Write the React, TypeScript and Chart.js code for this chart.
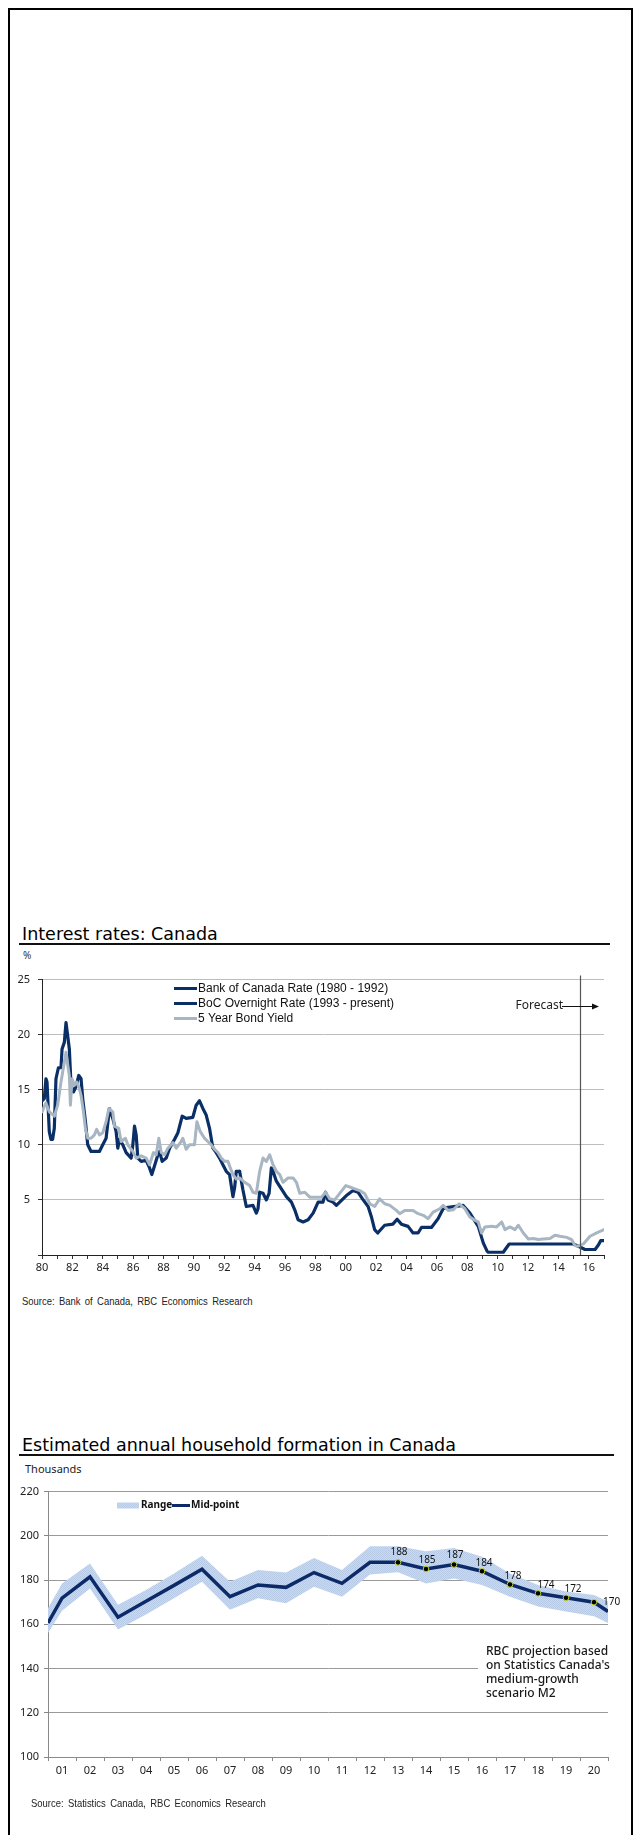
import React, { useEffect, useRef } from 'react';
import { Chart, registerables } from 'chart.js';

Chart.register(...registerables);

// ---------------- Chart 1 data: Interest rates: Canada ----------------
const rateLegendLabels = ['Bank of Canada Rate (1980 - 1992)', 'BoC Overnight Rate (1993 - present)', '5 Year Bond Yield'];
const rateYAxisTicks = [0, 5, 10, 15, 20, 25];
const forecastStart = 2015.4;

const bankRateYears = [1980.0, 1980.15, 1980.26, 1980.33, 1980.48, 1980.59, 1980.7, 1980.81, 1980.92, 1981.08, 1981.25, 1981.32, 1981.47, 1981.58, 1981.69, 1981.8, 1981.91, 1982.07, 1982.24, 1982.42, 1982.57, 1982.68, 1982.86, 1983.01, 1983.23, 1983.78, 1984.0, 1984.22, 1984.44, 1984.66, 1984.88, 1984.99, 1985.1, 1985.32, 1985.54, 1985.87, 1985.98, 1986.09, 1986.2, 1986.31, 1986.53, 1986.86, 1987.08, 1987.23, 1987.41, 1987.63, 1987.74, 1987.91, 1988.18, 1988.4, 1988.73, 1988.95, 1989.23, 1989.49, 1989.93, 1990.15, 1990.37, 1990.59, 1990.81, 1991.03, 1991.25, 1991.47, 1991.69, 1991.91, 1992.13, 1992.35, 1992.57, 1992.68, 1992.79, 1993.01];
const bankRateValues = [14.0, 14.2, 16.0, 15.7, 11.2, 10.5, 10.5, 11.5, 16.0, 17.0, 17.0, 18.7, 19.3, 21.1, 19.9, 18.7, 15.4, 14.8, 15.3, 16.3, 16.0, 14.2, 12.1, 10.0, 9.4, 9.4, 10.0, 10.6, 13.3, 12.4, 11.2, 9.7, 10.5, 10.0, 9.3, 8.8, 10.0, 11.7, 10.9, 8.8, 8.5, 8.6, 7.9, 7.3, 8.1, 9.1, 9.4, 8.5, 8.8, 9.7, 10.5, 11.1, 12.6, 12.4, 12.5, 13.6, 14.0, 13.3, 12.7, 11.5, 9.7, 9.3, 8.8, 8.2, 7.6, 7.3, 5.3, 6.1, 7.6, 7.6];

const overnightYears = [1993.01, 1993.23, 1993.45, 1993.89, 1994.11, 1994.22, 1994.33, 1994.55, 1994.77, 1994.95, 1995.1, 1995.21, 1995.43, 1995.76, 1996.09, 1996.42, 1996.64, 1996.86, 1997.19, 1997.52, 1997.85, 1998.18, 1998.5, 1998.67, 1998.83, 1999.16, 1999.38, 1999.6, 2000.04, 2000.48, 2000.8, 2001.1, 2001.47, 2001.68, 2001.9, 2002.1, 2002.56, 2003.1, 2003.38, 2003.66, 2004.1, 2004.43, 2004.76, 2004.98, 2005.64, 2006.08, 2006.41, 2006.63, 2007.73, 2008.17, 2008.4, 2008.72, 2009.05, 2009.31, 2009.38, 2010.37, 2010.6, 2010.76, 2014.98, 2015.38, 2015.75, 2016.41, 2016.63, 2016.78, 2017.0];
const overnightValues = [7.6, 5.9, 4.4, 4.5, 3.8, 4.2, 5.7, 5.6, 5.0, 5.6, 7.9, 7.6, 6.7, 6.0, 5.3, 4.8, 4.1, 3.2, 3.0, 3.2, 3.8, 4.8, 4.8, 5.7, 5.0, 4.8, 4.5, 4.8, 5.4, 5.85, 5.7, 5.1, 4.4, 3.5, 2.3, 2.0, 2.7, 2.8, 3.25, 2.8, 2.6, 2.0, 2.0, 2.5, 2.5, 3.3, 4.2, 4.3, 4.5, 3.8, 3.3, 2.6, 1.1, 0.33, 0.25, 0.25, 0.7, 1.0, 1.0, 0.75, 0.5, 0.5, 0.9, 1.3, 1.3];

const bondYears = [1980.0, 1980.26, 1980.48, 1980.81, 1981.03, 1981.25, 1981.47, 1981.58, 1981.69, 1981.8, 1981.87, 1981.98, 1982.13, 1982.29, 1982.46, 1982.57, 1982.73, 1982.86, 1983.01, 1983.23, 1983.45, 1983.6, 1983.78, 1984.0, 1984.22, 1984.4, 1984.66, 1984.77, 1985.05, 1985.21, 1985.49, 1985.65, 1985.98, 1986.2, 1986.53, 1986.86, 1987.08, 1987.34, 1987.52, 1987.69, 1987.85, 1988.07, 1988.29, 1988.62, 1988.84, 1989.16, 1989.27, 1989.49, 1989.71, 1990.04, 1990.2, 1990.42, 1990.7, 1990.92, 1991.14, 1991.36, 1991.58, 1991.8, 1992.02, 1992.24, 1992.4, 1992.57, 1992.79, 1993.01, 1993.34, 1993.67, 1993.89, 1994.11, 1994.33, 1994.55, 1994.77, 1994.99, 1995.21, 1995.43, 1995.65, 1995.87, 1996.2, 1996.53, 1996.75, 1996.97, 1997.3, 1997.63, 1997.96, 1998.4, 1998.67, 1998.94, 1999.27, 1999.6, 2000.0, 2000.3, 2000.6, 2000.92, 2001.25, 2001.58, 2001.9, 2002.23, 2002.56, 2002.9, 2003.33, 2003.55, 2003.88, 2004.43, 2004.76, 2005.1, 2005.42, 2005.75, 2006.19, 2006.41, 2006.74, 2007.07, 2007.47, 2007.84, 2008.17, 2008.5, 2008.72, 2008.94, 2009.16, 2009.6, 2009.93, 2010.26, 2010.48, 2010.81, 2011.14, 2011.36, 2011.69, 2012.02, 2012.35, 2012.67, 2013.0, 2013.44, 2013.77, 2014.1, 2014.54, 2014.87, 2015.09, 2015.3, 2015.64, 2016.08, 2016.52, 2017.0];
const bondValues = [13.0, 13.8, 13.0, 12.6, 13.6, 15.7, 17.5, 18.4, 17.3, 16.3, 13.6, 16.0, 15.4, 15.7, 15.1, 14.5, 13.0, 11.5, 10.6, 10.6, 10.9, 11.4, 10.9, 11.1, 12.1, 13.3, 13.0, 11.7, 11.5, 10.3, 10.6, 10.0, 9.4, 8.8, 9.0, 8.8, 8.2, 9.3, 9.1, 10.6, 9.3, 9.1, 9.7, 10.2, 9.7, 10.3, 10.6, 9.6, 10.0, 10.0, 12.1, 11.2, 10.6, 10.3, 10.0, 9.6, 9.3, 8.8, 8.5, 8.5, 7.9, 7.3, 6.9, 7.0, 6.6, 6.3, 5.7, 5.6, 7.6, 8.8, 8.5, 9.1, 8.2, 7.6, 7.3, 6.6, 7.0, 7.0, 6.6, 5.6, 5.7, 5.25, 5.25, 5.25, 5.7, 5.1, 5.0, 5.6, 6.3, 6.15, 6.0, 5.85, 5.55, 4.65, 4.4, 5.1, 4.65, 4.5, 4.05, 3.75, 4.05, 4.05, 3.75, 3.6, 3.3, 3.9, 4.2, 4.5, 4.05, 4.1, 4.65, 4.2, 3.45, 3.15, 3.0, 2.0, 2.55, 2.6, 2.55, 3.0, 2.3, 2.55, 2.3, 2.7, 2.0, 1.45, 1.5, 1.4, 1.45, 1.5, 1.8, 1.7, 1.6, 1.4, 0.85, 0.8, 1.0, 1.7, 2.0, 2.3];

// ---------------- Chart 2 data: household formation ----------------
const householdYears = ['01', '02', '03', '04', '05', '06', '07', '08', '09', '10', '11', '12', '13', '14', '15', '16', '17', '18', '19', '20'];
const midPoint = [171.8, 181.5, 163.2, 170.4, 177.6, 184.9, 172.5, 177.8, 176.7, 183.4, 178.5, 188, 188, 185, 187, 184, 178, 174, 172, 170];
const rangeHigh = [178.5, 187.5, 168.8, 175.5, 183.0, 191.0, 179.2, 184.5, 183.4, 190.0, 184.5, 195.3, 195.3, 193.0, 194.5, 190.5, 183.0, 177.8, 174.8, 173.3];
const rangeLow = [166.1, 176.2, 157.7, 164.4, 171.8, 179.2, 166.6, 171.8, 169.5, 177.0, 172.5, 182.5, 183.5, 178.5, 180.7, 177.8, 172.5, 168.1, 165.8, 163.6];
// values where the series meet the left and right edges of the plot
const edgeStart = { mid: 160.6, high: 167.3, low: 156.1 };
const edgeEnd = { mid: 165.8, high: 170.3, low: 160.6 };
const labelledFrom = 13; // projection years with value labels (13..20)
const householdLegend = ['Range', 'Mid-point'];
const projectionNote = ['RBC projection based', "on Statistics Canada's", 'medium-growth', 'scenario M2'];

const TICK_FONT = '"Noto Sans", "Open Sans", sans-serif';
const NAVY = '#0a2f66';
const NAVY2 = '#0c2a68';
const GREY = '#a7b6c2';

const pts = (xs: number[], ys: number[]) => xs.map((x, i) => ({ x, y: ys[i] }));

const ratesOverlay = {
  id: 'ratesOverlay',
  afterDraw(chart: any) {
    const ctx = chart.ctx as CanvasRenderingContext2D;
    const { top, bottom } = chart.chartArea;
    const xs = chart.scales.x;
    ctx.save();
    // forecast divider
    const fx = Math.round(xs.getPixelForValue(forecastStart)) + 0.5;
    ctx.strokeStyle = '#555';
    ctx.lineWidth = 1.2;
    ctx.beginPath();
    ctx.moveTo(fx, top - 4);
    ctx.lineTo(fx, bottom);
    ctx.stroke();
    ctx.font = '12px ' + TICK_FONT;
    ctx.fillStyle = '#222';
    ctx.textAlign = 'right';
    ctx.textBaseline = 'middle';
    ctx.fillText('Forecast', 563, 41);
    ctx.strokeStyle = '#111';
    ctx.lineWidth = 1;
    ctx.beginPath();
    ctx.moveTo(562, 41.5);
    ctx.lineTo(594, 41.5);
    ctx.stroke();
    ctx.fillStyle = '#111';
    ctx.beginPath();
    ctx.moveTo(599, 41.5);
    ctx.lineTo(592, 38.5);
    ctx.lineTo(592, 44.5);
    ctx.closePath();
    ctx.fill();
    // legend
    const colors = [NAVY, NAVY, GREY];
    ctx.font = '12px "Liberation Sans", Arial, sans-serif';
    ctx.textAlign = 'left';
    rateLegendLabels.forEach((lab, i) => {
      const y = 23 + i * 15;
      ctx.strokeStyle = colors[i];
      ctx.lineWidth = 3;
      ctx.beginPath();
      ctx.moveTo(174, y + 0.5);
      ctx.lineTo(197, y + 0.5);
      ctx.stroke();
      ctx.fillStyle = '#111';
      ctx.fillText(lab, 198, y + 1);
    });
    ctx.restore();
  },
};

function RatesChart() {
  const ref = useRef<HTMLCanvasElement>(null);
  useEffect(() => {
    const canvas = ref.current!;
    const chart = new Chart(canvas, {
      type: 'line',
      data: {
        datasets: [
          { label: rateLegendLabels[2], data: pts(bondYears, bondValues), borderColor: GREY, borderWidth: 3 },
          { label: rateLegendLabels[0], data: pts(bankRateYears, bankRateValues), borderColor: NAVY, borderWidth: 3.2 },
          { label: rateLegendLabels[1], data: pts(overnightYears, overnightValues), borderColor: NAVY, borderWidth: 3.2 },
        ],
      },
      options: {
        animation: false,
        responsive: false,
        maintainAspectRatio: false,
        devicePixelRatio: 1,
        layout: { padding: { left: 0, right: 30, top: 12, bottom: 0 } },
        plugins: { legend: { display: false }, tooltip: { enabled: false } },
        elements: {
          point: { radius: 0 },
          line: { tension: 0, borderJoinStyle: 'round', borderCapStyle: 'round', fill: false },
        },
        scales: {
          x: {
            type: 'linear',
            min: 1980,
            max: 2017,
            afterFit: (s: any) => { s.height = 30; },
            grid: { drawOnChartArea: false, drawTicks: true, tickLength: 4, tickColor: '#333' },
            border: { display: true, color: '#222', width: 1 },
            ticks: {
              stepSize: 1,
              autoSkip: false,
              maxRotation: 0,
              padding: 2,
              color: '#222',
              font: { family: TICK_FONT, size: 11 },
              callback: (v: any) => (Number(v) % 2 === 0 ? String(Number(v) % 100).padStart(2, '0') : ''),
            },
          },
          y: {
            min: 0,
            max: 25,
            afterFit: (s: any) => { s.width = 42; },
            afterBuildTicks: (s: any) => { s.ticks = rateYAxisTicks.map((v) => ({ value: v })); },
            grid: { color: '#bdbdbd', lineWidth: 1, drawTicks: true, tickLength: 4, tickColor: '#333' },
            border: { display: true, color: '#222', width: 1 },
            ticks: {
              padding: 8,
              color: '#222',
              font: { family: TICK_FONT, size: 11 },
              callback: (v: any) => (Number(v) === 0 ? '' : String(v)),
            },
          },
        },
      } as any,
      plugins: [ratesOverlay],
    });
    return () => chart.destroy();
  }, []);
  return (
    <canvas
      ref={ref}
      width={634}
      height={320}
      style={{ position: 'absolute', left: 0, top: 965, width: 634, height: 320 }}
    />
  );
}

function makePattern(ctx: CanvasRenderingContext2D) {
  const c = document.createElement('canvas');
  c.width = 2;
  c.height = 2;
  const g = c.getContext('2d')!;
  g.fillStyle = '#c9daef';
  g.fillRect(0, 0, 2, 2);
  g.fillStyle = '#b7cbe7';
  g.fillRect(0, 0, 1, 1);
  g.fillRect(1, 1, 1, 1);
  return ctx.createPattern(c, 'repeat')!;
}

function HouseholdChart() {
  const ref = useRef<HTMLCanvasElement>(null);
  useEffect(() => {
    const canvas = ref.current!;
    const pattern = makePattern(canvas.getContext('2d')!);
    const series = (edgeA: number, vals: number[], edgeB: number) => [
      { x: 0.5, y: edgeA },
      ...vals.map((v, i) => ({ x: i + 1, y: v })),
      { x: 20.5, y: edgeB },
    ];
    const overlay = {
      id: 'householdOverlay',
      afterDatasetsDraw(chart: any) {
        const ctx = chart.ctx as CanvasRenderingContext2D;
        ctx.save();
        // value labels
        const meta = chart.getDatasetMeta(0);
        const dx = [1, 1, 1, 2, 3, 8, 7, 9];
        const dy = [-10, -9, -9, -8, -8, -8, -9, 0];
        ctx.font = '10px ' + TICK_FONT;
        ctx.fillStyle = '#111';
        ctx.textBaseline = 'middle';
        for (let k = labelledFrom; k <= 20; k++) {
          const el = meta.data[k];
          const j = k - labelledFrom;
          ctx.textAlign = j === 7 ? 'left' : 'center';
          ctx.fillText(String(Math.round(midPoint[k - 1])), el.x + dx[j], el.y + dy[j]);
        }
        // projection note
        ctx.fillStyle = '#fff';
        ctx.fillRect(478, 160, 150, 64);
        ctx.fillStyle = '#1a1a1a';
        ctx.font = '500 12px ' + TICK_FONT;
        ctx.textAlign = 'left';
        projectionNote.forEach((line, i) => ctx.fillText(line, 486, 172 + i * 14));
        // legend
        const ly = 25.5;
        ctx.fillStyle = pattern;
        ctx.fillRect(117, ly - 3, 22, 6);
        ctx.fillStyle = '#111';
        ctx.font = 'bold 10px ' + TICK_FONT;
        ctx.fillText(householdLegend[0], 141, ly);
        ctx.strokeStyle = NAVY2;
        ctx.lineWidth = 3;
        ctx.beginPath();
        ctx.moveTo(172, ly);
        ctx.lineTo(190, ly);
        ctx.stroke();
        ctx.fillText(householdLegend[1], 191, ly);
        ctx.restore();
      },
    };
    const chart = new Chart(canvas, {
      type: 'line',
      data: {
        datasets: [
          {
            label: householdLegend[1],
            data: series(edgeStart.mid, midPoint, edgeEnd.mid),
            borderColor: NAVY2,
            borderWidth: 3.5,
            pointRadius: (c: any) => (c.dataIndex >= labelledFrom && c.dataIndex <= 20 ? 2.8 : 0),
            pointBackgroundColor: '#000',
            pointBorderColor: '#c5d42a',
            pointBorderWidth: 1,
          },
          {
            label: householdLegend[0],
            data: series(edgeStart.high, rangeHigh, edgeEnd.high),
            borderWidth: 0,
            borderColor: 'rgba(0,0,0,0)',
            backgroundColor: pattern,
            fill: '+1',
            pointRadius: 0,
          },
          {
            label: 'Range low',
            data: series(edgeStart.low, rangeLow, edgeEnd.low),
            borderWidth: 0,
            borderColor: 'rgba(0,0,0,0)',
            pointRadius: 0,
            fill: false,
          },
        ],
      },
      options: {
        animation: false,
        responsive: false,
        maintainAspectRatio: false,
        devicePixelRatio: 1,
        layout: { padding: { left: 0, right: 26, top: 9, bottom: 0 } },
        plugins: { legend: { display: false }, tooltip: { enabled: false } },
        elements: { line: { tension: 0, borderJoinStyle: 'miter' } },
        scales: {
          x: {
            type: 'linear',
            min: 0.5,
            max: 20.5,
            afterFit: (s: any) => { s.height = 43; },
            afterBuildTicks: (s: any) => {
              s.ticks = Array.from({ length: 21 }, (_, i) => ({ value: i + 0.5 }));
            },
            grid: { drawOnChartArea: false, drawTicks: true, tickLength: 4, tickColor: '#888' },
            border: { display: true, color: '#8a8a8a', width: 1 },
            ticks: {
              autoSkip: false,
              maxRotation: 0,
              padding: 3,
              labelOffset: 14,
              color: '#222',
              font: { family: TICK_FONT, size: 11 },
              callback: (v: any) => {
                const i = Math.round(Number(v) - 0.5);
                return i < householdYears.length ? householdYears[i] : '';
              },
            },
          },
          y: {
            min: 100,
            max: 220,
            afterFit: (s: any) => { s.width = 48; },
            grid: { color: '#9a9a9a', lineWidth: 1, drawTicks: true, tickLength: 4, tickColor: '#888' },
            border: { display: true, color: '#8a8a8a', width: 1 },
            ticks: {
              stepSize: 20,
              padding: 5,
              color: '#222',
              font: { family: TICK_FONT, size: 11 },
            },
          },
        },
      } as any,
      plugins: [overlay],
    });
    return () => chart.destroy();
  }, []);
  return (
    <canvas
      ref={ref}
      width={634}
      height={320}
      style={{ position: 'absolute', left: 0, top: 1480, width: 634, height: 320 }}
    />
  );
}

const titleStyle: React.CSSProperties = {
  position: 'absolute',
  left: 22,
  font: '17.5px "DejaVu Sans", sans-serif',
  lineHeight: '20px',
  color: '#000',
  whiteSpace: 'nowrap',
};
const sourceStyle: React.CSSProperties = {
  position: 'absolute',
  font: '11px "Liberation Sans", Arial, sans-serif',
  lineHeight: '14px',
  wordSpacing: '2px',
  color: '#222',
  whiteSpace: 'nowrap',
  transform: 'scaleX(0.86)',
  transformOrigin: '0 50%',
};

export default function App() {
  return (
    <div style={{ position: 'absolute', left: 0, top: 0, width: 634, height: 1835, overflow: 'hidden', background: '#fff' }}>
      <div
        style={{
          position: 'absolute',
          left: 8,
          top: 8,
          width: 625,
          height: 1827,
          border: '2px solid #000',
          borderBottom: 'none',
          boxSizing: 'border-box',
        }}
      />
      <div style={{ ...titleStyle, top: 924 }}>Interest rates: Canada</div>
      <div style={{ position: 'absolute', left: 19, top: 943, width: 591, height: 2, background: '#111' }} />
      <div style={{ position: 'absolute', left: 23, top: 948, font: '10px "Noto Sans", sans-serif', lineHeight: '14px', color: '#333' }}>%</div>
      <RatesChart />
      <div style={{ ...sourceStyle, left: 22, top: 1294 }}>Source: Bank of Canada, RBC Economics Research</div>

      <div style={{ ...titleStyle, top: 1435 }}>Estimated annual household formation in Canada</div>
      <div style={{ position: 'absolute', left: 19, top: 1454, width: 595, height: 2, background: '#111' }} />
      <div style={{ position: 'absolute', left: 25, top: 1461, font: '11px "Noto Sans", sans-serif', lineHeight: '16px', color: '#222' }}>Thousands</div>
      <HouseholdChart />
      <div style={{ ...sourceStyle, left: 31, top: 1796 }}>Source: Statistics Canada, RBC Economics Research</div>
    </div>
  );
}
